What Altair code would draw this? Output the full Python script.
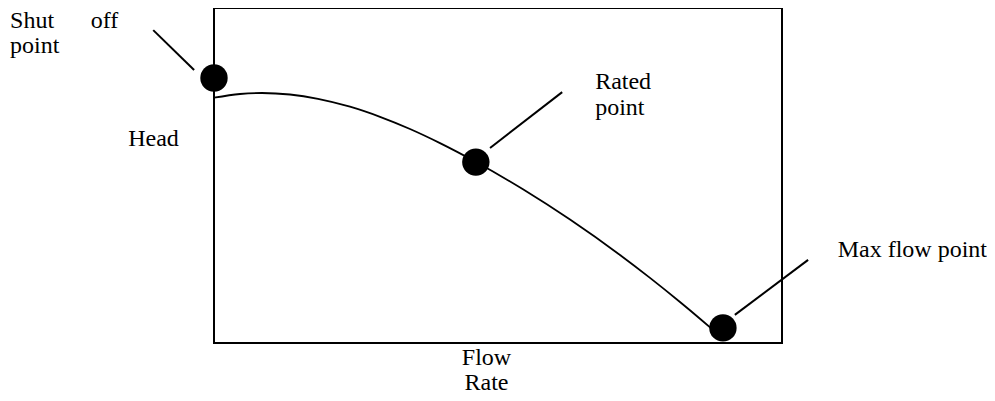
import altair as alt
import pandas as pd

# Pump performance curve (flow rate 0-100, head 0-100, arbitrary units)
curve_flow = [0, 4.58, 8.45, 13.38, 18.31, 23.94, 29.23, 34.51, 39.79, 46.13, 54.40, 62.68, 71.48, 76.76, 82.04, 85.56, 88.20]
curve_head = [73.22, 74.33, 74.63, 74.18, 72.90, 70.54, 67.52, 63.88, 59.67, 54.03, 45.88, 36.84, 26.27, 19.43, 12.24, 7.25, 3.40]

# Key points
point_name = ["Shut off", "Rated", "Max flow"]
point_flow = [0, 46.1, 89.6]
point_head = [79.1, 54.0, 4.5]

# Leader lines from labels to points
leader_x = [-10.7, 48.6, 91.7]
leader_y = [93.4, 58.2, 8.4]
leader_x2 = [-3.5, 61.3, 104.6]
leader_y2 = [81.5, 74.9, 24.8]

# Annotation labels
label_text = ["Shut", "off", "point", "Rated", "point", "Max flow point"]
label_x = [-35.9, -21.7, -35.9, 67.1, 67.1, 109.8]
label_y = [94.0, 94.0, 86.6, 75.8, 68.1, 25.7]

FONT = "Liberation Serif"
FS = 24

curve_df = pd.DataFrame({"flow": curve_flow, "head": curve_head})
pts_df = pd.DataFrame({"name": point_name, "flow": point_flow, "head": point_head})
lead_df = pd.DataFrame({"flow": leader_x, "head": leader_y, "flow2": leader_x2, "head2": leader_y2})
lab_df = pd.DataFrame({"text": label_text, "flow": label_x, "head": label_y})

x_scale = alt.Scale(domain=[0, 100], nice=False, zero=False)
y_scale = alt.Scale(domain=[0, 100], nice=False, zero=False)

x_axis = alt.Axis(
    title=["Flow", "Rate"], domain=False, ticks=False, labels=False, grid=False,
    titleFont=FONT, titleFontSize=FS, titleFontWeight="normal", titleColor="black",
    titleX=272, titleY=21, titleAlign="center", titleBaseline="alphabetic", titleLineHeight=25,
)
y_axis = alt.Axis(
    title="Head", domain=False, ticks=False, labels=False, grid=False,
    titleFont=FONT, titleFontSize=FS, titleFontWeight="normal", titleColor="black",
    titleAngle=0, titleX=-61, titleY=137, titleAlign="center", titleBaseline="alphabetic",
)


def X(f):
    return alt.X(f, type="quantitative", scale=x_scale, axis=x_axis)


def Y(f):
    return alt.Y(f, type="quantitative", scale=y_scale, axis=y_axis)


curve = alt.Chart(curve_df).mark_line(color="black", strokeWidth=1.8, interpolate="monotone").encode(
    x=X("flow"), y=Y("head")
)
leaders = alt.Chart(lead_df).mark_rule(color="black", strokeWidth=2).encode(
    x=X("flow"), y=Y("head"), x2="flow2", y2="head2"
)
points = alt.Chart(pts_df).mark_circle(color="black", size=750, opacity=1).encode(
    x=X("flow"), y=Y("head")
)
labels = alt.Chart(lab_df).mark_text(
    align="left", baseline="alphabetic", font=FONT, fontSize=FS, color="black"
).encode(x=X("flow"), y=Y("head"), text="text")

chart = alt.layer(curve, leaders, points, labels).properties(
    width=568, height=335,
    autosize=alt.AutoSizeParams(type="none"),
    padding={"left": 206, "top": 0, "right": 205, "bottom": 50},
).configure(background="white").configure_view(stroke="black", strokeWidth=2)

chart.save("out.html", embed_options={"renderer": "svg", "actions": False})
